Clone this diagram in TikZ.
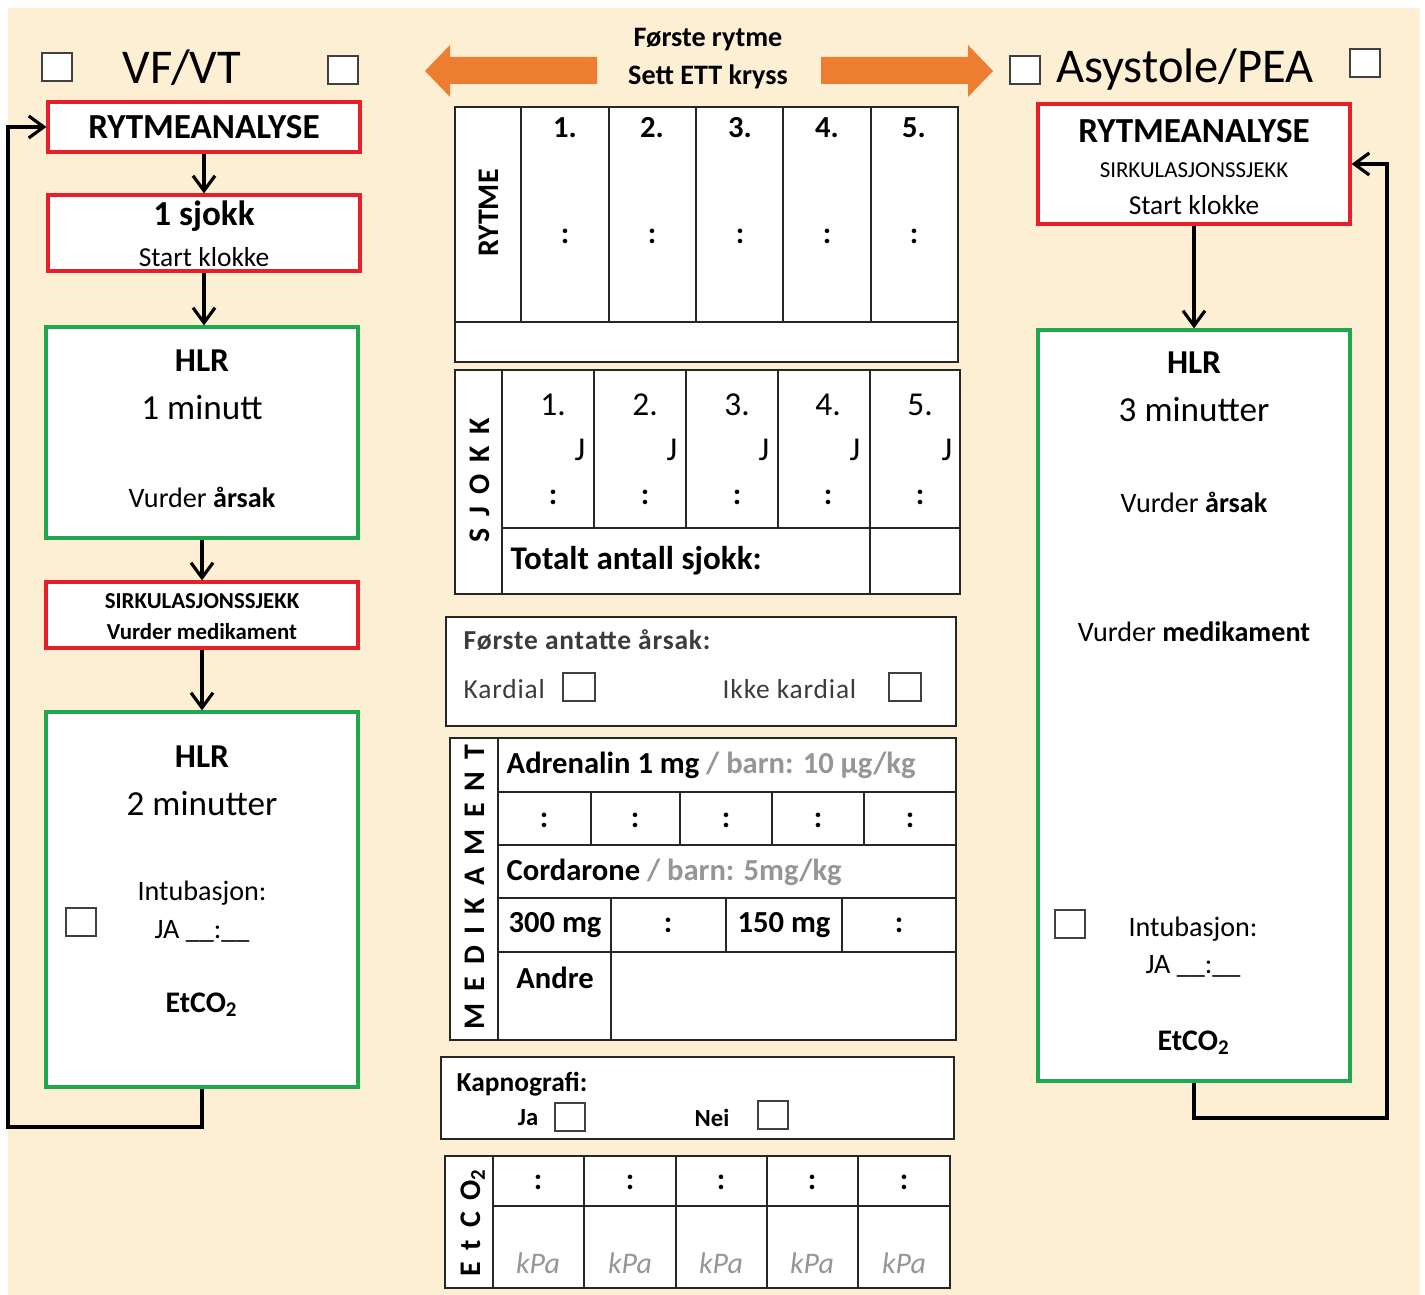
\documentclass[tikz,border=0pt]{standalone}
\usepackage{fontspec}
\setmainfont{Carlito}
\newfontfamily\widefont[LetterSpace=40]{Carlito}
\newfontfamily\lsfont[LetterSpace=3]{Carlito}
\usetikzlibrary{arrows.meta,fit}

\definecolor{bgbeige}{RGB}{253,239,212}
\definecolor{boxred}{RGB}{232,30,40}
\definecolor{boxgreen}{RGB}{32,168,80}
\definecolor{arrorange}{RGB}{237,125,49}
\definecolor{softgray}{RGB}{150,150,150}
\definecolor{darktext}{RGB}{60,60,60}

\tikzset{
  redbox/.style={draw=boxred, line width=0.9pt, fill=white, inner sep=0pt},
  greenbox/.style={draw=boxgreen, line width=0.9pt, fill=white, inner sep=0pt},
  chk/.style={draw=black!75, line width=0.5pt, fill=white, minimum width=0.3cm, minimum height=0.28cm, inner sep=0pt},
  flow/.style={line width=0.9pt, -{Straight Barb[length=1.5mm,width=2.2mm,line width=0.9pt]}},
  grid/.style={line width=0.6pt, draw=black!85},
  titletext/.style={font=\fontsize{13.8}{16}\selectfont},
  headtext/.style={font=\fontsize{10}{12}\selectfont\bfseries},
  hlrtext/.style={font=\fontsize{9.5}{11}\selectfont\bfseries},
  bigtext/.style={font=\fontsize{10}{12}\selectfont},
  midtext/.style={font=\fontsize{8}{10}\selectfont},
  smalltext/.style={font=\fontsize{7.8}{9}\selectfont},
  tinytext/.style={font=\fontsize{6.5}{8}\selectfont\bfseries},
  tinyreg/.style={font=\fontsize{6.5}{8}\selectfont},
  tabbold/.style={font=\fontsize{8.7}{10}\selectfont\bfseries},
  tabreg/.style={font=\fontsize{9.5}{11}\selectfont},
  spaced/.style={font=\fontsize{7.8}{10}\selectfont\lsfont, text=darktext, inner sep=0pt},
  sidelabel/.style={rotate=90, font=\fontsize{8.5}{10}\selectfont\widefont\bfseries},
}

\begin{document}
\begin{tikzpicture}[x=0.01cm, y=-0.01cm]
\useasboundingbox (0,0) rectangle (1425,1295);
\fill[bgbeige] (8,8) rectangle (1420,1295);

% left column: VF/VT
\node[chk] (cbVFa) at (57,67) {};
\node[titletext] (vfvt) at (182,68) {VF/VT};
\node[chk] (cbVFb) at (343,70) {};

\node[redbox, fit={(48,102) (360,152)}] (raL) {};
\node[headtext] (raLtxt) at (raL) {RYTMEANALYSE};

\node[redbox, fit={(48,195) (360,271)}] (sjokkL) {};
\node[headtext] (sjokkLa) at (204,216) {1 sjokk};
\node[smalltext] (sjokkLb) at (204,257) {Start klokke};

\node[greenbox, fit={(46,327) (358,538)}] (hlrA) {};
\node[hlrtext] (hlrAa) at (202,361) {HLR};
\node[bigtext] (hlrAb) at (202,408) {1 minutt};
\node[midtext] (hlrAc) at (202,497) {Vurder \textbf{årsak}};

\node[redbox, fit={(46,582) (358,648)}] (sirkL) {};
\node[tinytext] (sirkLa) at (202,601) {SIRKULASJONSSJEKK};
\node[tinytext] (sirkLb) at (202,632) {Vurder medikament};

\node[greenbox, fit={(46,712) (358,1087)}] (hlrB) {};
\node[hlrtext] (hlrBa) at (202,757) {HLR};
\node[bigtext] (hlrBb) at (202,804) {2 minutter};
\node[midtext] (hlrBc) at (202,893) {Intubasjon:};
\node[midtext] (hlrBd) at (202,931) {JA \_\_:\_\_};
\node[chk] (cbIntA) at (81,922) {};
\node[midtext, font=\fontsize{8.5}{10}\selectfont\bfseries] (hlrBe) at (202,1005) {EtCO\textsubscript{2}};

\draw[flow] (raL.south) -- (raL.south |- sjokkL.north);
\draw[flow] (sjokkL.south) -- (sjokkL.south |- hlrA.north);
\draw[flow] (hlrA.south) -- (hlrA.south |- sirkL.north);
\draw[flow] (sirkL.south) -- (sirkL.south |- hlrB.north);
\coordinate (loopL) at (8,1127);
\draw[flow] (hlrB.south) |- (loopL) |- (raL.west);

% right column: Asystole/PEA
\node[chk] (cbASa) at (1025,70) {};
\node[titletext] (asys) at (1185,70) {Asystole/PEA};
\node[chk] (cbASb) at (1365,63) {};

\node[redbox, fit={(1038,104) (1350,224)}] (raR) {};
\node[headtext] (raRa) at (1194,131) {RYTMEANALYSE};
\node[tinyreg] (raRb) at (1194,170) {SIRKULASJONSSJEKK};
\node[smalltext] (raRc) at (1194,205) {Start klokke};

\node[greenbox, fit={(1038,330) (1350,1081)}] (hlrC) {};
\node[hlrtext] (hlrCa) at (1194,363) {HLR};
\node[bigtext] (hlrCb) at (1194,410) {3 minutter};
\node[midtext] (hlrCc) at (1194,502) {Vurder \textbf{årsak}};
\node[midtext] (hlrCd) at (1194,632) {Vurder \textbf{medikament}};
\node[chk] (cbIntB) at (1070,924) {};
\node[midtext] (hlrCe) at (1193,929) {Intubasjon:};
\node[midtext] (hlrCf) at (1193,966) {JA \_\_:\_\_};
\node[midtext, font=\fontsize{8.5}{10}\selectfont\bfseries] (hlrCg) at (1194,1043) {EtCO\textsubscript{2}};

\draw[flow] (raR.south) -- (raR.south |- hlrC.north);
\coordinate (loopR) at (1387,1118);
\draw[flow] (hlrC.south) |- (loopR) |- (raR.east);

% orange arrows
\fill[arrorange] (425,71) -- (450,45) -- (450,57) -- (597,57) -- (597,84) -- (450,84) -- (450,97) -- cycle;
\fill[arrorange] (993,71) -- (968,45) -- (968,57) -- (821,57) -- (821,84) -- (968,84) -- (968,97) -- cycle;
\node[smalltext, font=\fontsize{8}{10}\selectfont\bfseries] (forsteA) at (708,40) {Første rytme};
\node[smalltext, font=\fontsize{8}{10}\selectfont\bfseries] (forsteB) at (708,77) {Sett ETT kryss};

% RYTME table
\draw[grid, fill=white] (455,107) rectangle (958,362);
\draw[grid] (455,322) -- (958,322);
\foreach \x in {521,609,696,783,871} \draw[grid] (\x,107) -- (\x,322);
\node[rotate=90, font=\fontsize{8.5}{10}\selectfont\bfseries] (rytmeLbl) at (489,213) {RYTME};
\foreach \n/\x in {1/565,2/652,3/740,4/827,5/914} {
  \node[tabbold] (rnum\n) at (\x,128) {\n.};
  \node[tabbold] (rcol\n) at (\x,236) {:};
}

% SJOKK table
\draw[grid, fill=white] (455,370) rectangle (960,594);
\draw[grid] (502,370) -- (502,594);
\draw[grid] (502,528) -- (960,528);
\foreach \x in {594,686,778} \draw[grid] (\x,370) -- (\x,528);
\draw[grid] (870,370) -- (870,594);
\node[sidelabel] (sjokkLbl) at (480,480) {SJOKK};
\foreach \n/\x in {1/553,2/645,3/737,4/828,5/920} {
  \node[tabreg] (snum\n) at (\x,405) {\n.};
  \node[tabreg] (sj\n) at (\x+27,450) {J};
  \node[tabbold] (scol\n) at (\x,497) {:};
}
\node[tabbold, font=\fontsize{9.4}{11}\selectfont\bfseries, anchor=west, inner sep=0pt] (totalt) at (510,561) {Totalt antall sjokk:};

% aarsak box
\draw[grid, fill=white] (446,617) rectangle (956,726);
\node[spaced, font=\fontsize{7.8}{10}\selectfont\lsfont\bfseries, anchor=west] (aarsak) at (463,640) {Første antatte årsak:};
\node[spaced, anchor=west] (kardial) at (463,689) {Kardial};
\node[chk, minimum width=0.32cm] (cbKard) at (579,687) {};
\node[spaced, anchor=west] (ikkekard) at (722,689) {Ikke kardial};
\node[chk, minimum width=0.32cm] (cbIkke) at (905,687) {};

% MEDIKAMENT table
\draw[grid, fill=white] (450,738) rectangle (956,1040);
\draw[grid] (498,738) -- (498,1040);
\foreach \y in {792,845,898,952} \draw[grid] (498,\y) -- (956,\y);
\foreach \x in {591,680,772,864} \draw[grid] (\x,792) -- (\x,845);
\foreach \x in {726,842} \draw[grid] (\x,898) -- (\x,952);
\draw[grid] (611,898) -- (611,1040);
\node[sidelabel] (medLbl) at (475,887) {MEDIKAMENT};
\node[tabbold, anchor=west, inner sep=0pt] (adren) at (506,765) {Adrenalin 1 mg \textcolor{softgray}{/ barn: 10 µg/kg}};
\foreach \n/\x in {1/544,2/635,3/726,4/818,5/910} \node[tabbold] (mcol\n) at (\x,820) {:};
\node[tabbold, anchor=west, inner sep=0pt] (cord) at (506,872) {Cordarone \textcolor{softgray}{/ barn: 5mg/kg}};
\node[tabbold] (dose300) at (555,925) {300 mg};
\node[tabbold] (dcolA) at (668,925) {:};
\node[tabbold] (dose150) at (784,925) {150 mg};
\node[tabbold] (dcolB) at (899,925) {:};
\node[tabbold] (andre) at (555,978) {Andre};

% Kapnografi box
\draw[grid, fill=white] (441,1057) rectangle (954,1139);
\node[tabbold, font=\fontsize{7.8}{9}\selectfont\bfseries, anchor=west, inner sep=0pt] (kapno) at (456,1084) {Kapnografi:};
\node[tinytext, font=\fontsize{7}{8}\selectfont\bfseries] (kapJa) at (528,1118) {Ja};
\node[chk] (cbJa) at (570,1117) {};
\node[tinytext, font=\fontsize{7}{8}\selectfont\bfseries] (kapNei) at (712,1118) {Nei};
\node[chk] (cbNei) at (773,1115) {};

% EtCO2 table
\draw[grid, fill=white] (445,1156) rectangle (950,1288);
\draw[grid] (493,1156) -- (493,1288);
\draw[grid] (493,1206) -- (950,1206);
\foreach \x in {584,676,767,858} \draw[grid] (\x,1156) -- (\x,1288);
\node[sidelabel] (etcoLbl) at (473,1222) {EtCO\textsubscript{2}};
\foreach \n/\x in {1/538,2/630,3/721,4/812,5/904} {
  \node[tabbold] (ecol\n) at (\x,1182) {:};
  \node[tabreg, font=\fontsize{8.5}{10}\selectfont\itshape, text=softgray] (ekpa\n) at (\x,1263) {kPa};
}
\end{tikzpicture}
\end{document}
